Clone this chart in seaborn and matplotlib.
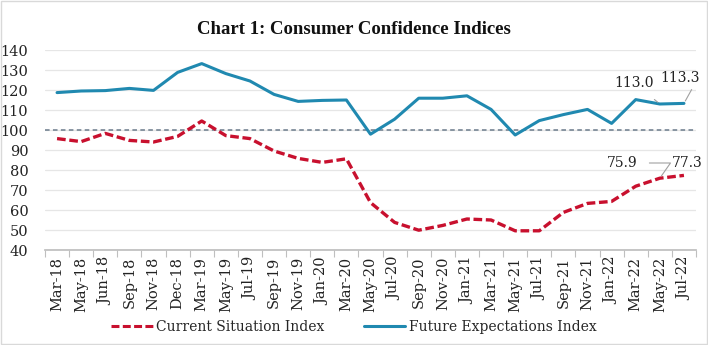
import matplotlib
matplotlib.use("Agg")
import matplotlib.pyplot as plt
import seaborn as sns
import pandas as pd
import numpy as np
from matplotlib.patches import Rectangle
from matplotlib.lines import Line2D

months = ["Mar-18", "May-18", "Jun-18", "Sep-18", "Nov-18", "Dec-18", "Mar-19", "May-19",
          "Jul-19", "Sep-19", "Nov-19", "Jan-20", "Mar-20", "May-20", "Jul-20", "Sep-20",
          "Nov-20", "Jan-21", "Mar-21", "May-21", "Jul-21", "Sep-21", "Nov-21", "Jan-22",
          "Mar-22", "May-22", "Jul-22"]
csi = [95.7, 94.2, 98.3, 94.8, 94.0, 96.8, 104.5, 97.2, 95.7, 89.5, 85.8, 83.8, 85.6,
       63.7, 53.8, 49.9, 52.3, 55.5, 55.0, 49.6, 49.6, 58.8, 63.3, 64.3, 71.9, 75.9, 77.3]
fei = [118.7, 119.5, 119.7, 120.8, 119.8, 128.8, 133.2, 128.2, 124.5, 117.8, 114.3, 114.8, 115.0,
       97.9, 105.4, 115.9, 115.9, 117.1, 110.3, 97.5, 104.7, 107.7, 110.3, 103.3, 115.2, 113.0, 113.3]
series_names = ["Current Situation Index", "Future Expectations Index"]
title = "Chart 1: Consumer Confidence Indices"

df = pd.DataFrame({"pos": list(range(len(months))) * 2,
                   "value": csi + fei,
                   "series": [series_names[0]] * len(months) + [series_names[1]] * len(months)})

sns.set_theme(style="white")
plt.rcParams["font.family"] = ["DejaVu Serif"]

fig = plt.figure(figsize=(7.08, 3.45), dpi=100)
ax = fig.add_axes([45 / 708, 1 - 250 / 345, (696 - 45) / 708, 200 / 345])

red = "#c8102e"
blue = "#2089b0"
dash = (2.6, 1.1)
sns.lineplot(data=df, x="pos", y="value", hue="series", style="series",
             palette={series_names[0]: red, series_names[1]: blue},
             dashes={series_names[0]: dash, series_names[1]: ""},
             linewidth=2.2, ax=ax, legend=False, sort=False)
ax.lines[0].set_linewidth(2.4)

ax.axhline(100, color="#6b7b8b", lw=1.1, ls=(0, (3, 2.2)), zorder=1)

ax.set_xlim(-0.5, len(months) - 0.5)
ax.set_ylim(40, 140)
ax.set_yticks(np.arange(40, 141, 10))
ax.set_xticks(range(len(months)))
ax.set_xticklabels(months, rotation=90)
ax.set_xticks(np.arange(-0.5, len(months), 1), minor=True)
ax.tick_params(axis="x", which="major", length=0, pad=5, labelsize=10.5, colors="#222222")
ax.tick_params(axis="x", which="minor", length=5, width=0.8, color="#bfbfbf", bottom=True)
ax.tick_params(axis="y", length=0, pad=12, labelsize=10.5, colors="#222222")
ax.grid(axis="y", color="#e6e6e6", lw=0.9)
ax.set_axisbelow(True)
for s in ["left", "right", "top"]:
    ax.spines[s].set_visible(False)
ax.spines["bottom"].set_color("#bfbfbf")
ax.set_xlabel("")
ax.set_ylabel("")

fig.text(0.5, 1 - 30 / 345, title, ha="center", va="center", fontsize=13.5,
         fontweight="bold", color="#111111", family=["Liberation Serif", "DejaVu Serif"])

n = len(months)
lab_kw = dict(fontsize=10, color="#222222", ha="center", va="center", annotation_clip=False)
line_kw = dict(arrowstyle="-", color="#a0a0a0", lw=0.8, shrinkA=6, shrinkB=2)
ax.annotate(f"{fei[n-2]:.1f}", xy=(n - 2, fei[n - 2]), xytext=(23.95, 123.5),
            arrowprops=dict(line_kw, shrinkA=7), **lab_kw)
ax.annotate(f"{fei[n-1]:.1f}", xy=(n - 1, fei[n - 1]), xytext=(25.85, 126.0),
            arrowprops=dict(line_kw, relpos=(0.85, 0.0), shrinkA=1), **lab_kw)
ax.annotate(f"{csi[n-2]:.1f}", xy=(n - 2, csi[n - 2]), xytext=(23.45, 83.5),
            arrowprops=dict(line_kw, relpos=(1.0, 0.5), connectionstyle="angle,angleA=0,angleB=55"), **lab_kw)
ax.annotate(f"{csi[n-1]:.1f}", xy=(n - 1, csi[n - 1]), xytext=(26.15, 83.5), **lab_kw)

handles = [Line2D([], [], color=red, lw=2.2, ls=(0, dash)),
           Line2D([], [], color=blue, lw=2.2)]
fig.legend(handles, series_names, loc="center", bbox_to_anchor=(0.5, 1 - 327 / 345),
           ncol=2, frameon=False, fontsize=10, handlelength=3.0, handletextpad=0.25,
           columnspacing=2.8)

fig.patches.append(Rectangle((0.002, 0.003), 0.996, 0.994, transform=fig.transFigure,
                             fill=False, edgecolor="#d9d9d9", lw=1.0))

fig.savefig("out.png", dpi=100)
